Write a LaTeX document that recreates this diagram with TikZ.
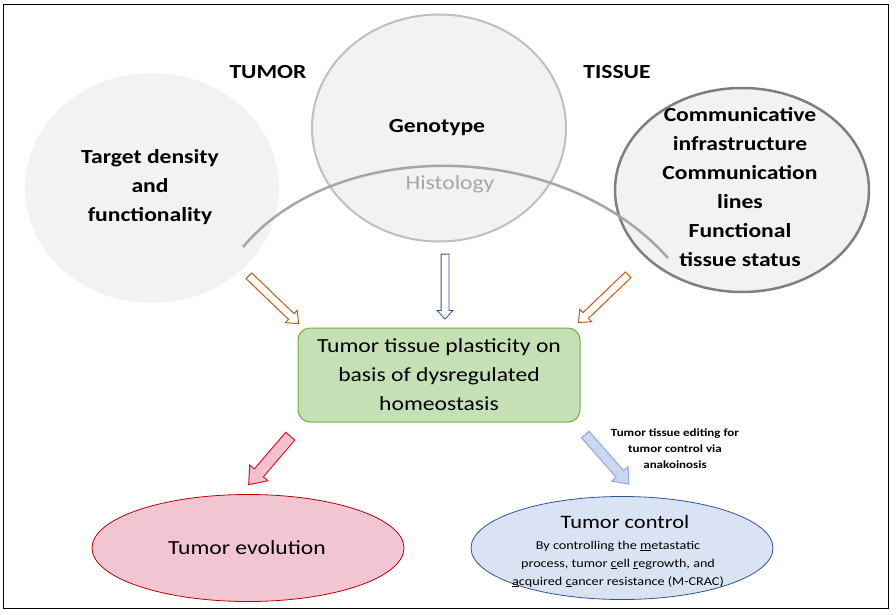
\documentclass[tikz,border=0pt]{standalone}
\usepackage{fontspec}
\setmainfont{Carlito}[FakeStretch=1.18]
\usetikzlibrary{shapes.geometric,shapes.arrows}
\definecolor{lgray}{HTML}{F2F2F2}
\definecolor{midgray}{HTML}{BFBFBF}
\definecolor{dkgray}{HTML}{7F7F7F}
\definecolor{arcgray}{HTML}{A6A6A6}
\definecolor{boxgreen}{HTML}{C5E0B4}
\definecolor{boxgreenline}{HTML}{70AD47}
\definecolor{evopink}{HTML}{F2C5D2}
\definecolor{evored}{HTML}{C00000}
\definecolor{ctlblue}{HTML}{DAE3F3}
\definecolor{ctlline}{HTML}{2F5597}
\definecolor{orangeline}{HTML}{C55A11}
\definecolor{redline}{HTML}{E0182C}
\definecolor{redfill}{HTML}{F4C0CC}
\definecolor{bluearrfill}{HTML}{C9D7EF}
\definecolor{bluearrline}{HTML}{8FAADC}
\begin{document}
\begin{tikzpicture}[x=1pt,y=-1pt,
  bigtxt/.style={font=\fontsize{20}{29}\selectfont, align=center},
  boldtxt/.style={font=\bfseries\fontsize{20}{29}\selectfont, align=center},
  blob/.style={ellipse, inner sep=0pt},
  barrow/.style={single arrow, sloped, allow upside down, anchor=center, inner xsep=0pt},
  hollowarrow/.style={barrow, draw=orangeline, fill=white, line width=1pt, inner ysep=3.5pt, single arrow head extend=4.5pt, single arrow tip angle=80},
  bluehollow/.style={barrow, draw=ctlline, fill=white, line width=0.8pt, inner ysep=3.5pt, single arrow head extend=4pt, single arrow tip angle=85},
  redarrow/.style={barrow, draw=redline, fill=redfill, line width=1pt, inner ysep=5.5pt, single arrow head extend=6pt, single arrow tip angle=75},
  bluearrow/.style={barrow, draw=bluearrline, fill=bluearrfill, line width=1pt, inner ysep=4.5pt, single arrow head extend=6pt, single arrow tip angle=78}
]
\useasboundingbox (0,0) rectangle (896,615);
\fill[white] (0,0) rectangle (896,615);

% top ellipses
\node[blob, fill=lgray, minimum width=254pt, minimum height=230pt] (tgt) at (152,188) {};
\node[boldtxt] (tgttxt) at (150,187) {Target density\\and\\functionality};
\node[blob, fill=lgray, draw=midgray, line width=2pt, minimum width=254pt, minimum height=227pt] (geno) at (439,128) {};
\node[boldtxt] (genotxt) at (437,128) {Genotype};
\node[bigtxt, text=arcgray] (histo) at (450,184) {Histology};
\node[blob, fill=lgray, draw=dkgray, line width=2.5pt, minimum width=254pt, minimum height=204pt] (tis) at (742,190) {};
\node[boldtxt] (tistxt) at (740,187) {Communicative\\infrastructure\\Communication\\lines\\Functional\\tissue status};

% arc
\coordinate (arcA) at (243,247);
\coordinate (arcB) at (668,258);
\draw[arcgray, line width=2.5pt] (arcA) .. controls (335,137) and (560,137) .. (arcB);

% titles
\node[boldtxt] (tumor) at (268,72) {TUMOR};
\node[boldtxt] (tissue) at (617,72) {TISSUE};

% central box
\node[draw=boxgreenline, fill=boxgreen, line width=1pt, rounded corners=12pt, minimum width=282pt, minimum height=94pt, bigtxt] (plast) at (439,375) {Tumor tissue plasticity on\\basis of dysregulated\\homeostasis};

% arrows into box
\coordinate (o1t) at (247,274); \coordinate (o1h) at (297,322);
\path (o1t) -- node[hollowarrow, minimum height=69pt] (o1) {} (o1h);
\coordinate (v1t) at (445,252); \coordinate (v1h) at (445,317);
\path (v1t) -- node[bluehollow, minimum height=65pt] (v1) {} (v1h);
\coordinate (o2t) at (630,273); \coordinate (o2h) at (580,321);
\path (o2t) -- node[hollowarrow, minimum height=69pt] (o2) {} (o2h);

% bottom ellipses
\node[blob, fill=evopink, draw=evored, line width=0.8pt, minimum width=312pt, minimum height=107pt] (evo) at (248,548) {};
\node[bigtxt] (evotxt) at (247,548) {Tumor evolution};
\node[blob, fill=ctlblue, draw=ctlline, line width=0.8pt, minimum width=302pt, minimum height=103pt] (ctl) at (622,548) {};
\node[font=\fontsize{19}{24}\selectfont] (ctltxt) at (625,522) {Tumor control};
\node[font=\fontsize{12}{18}\selectfont, align=center] (ctlsub) at (618,564) {By controlling the \underline{m}etastatic\\process, tumor \underline{c}ell \underline{r}egrowth, and\\\underline{a}cquired \underline{c}ancer resistance (M-CRAC)};

% arrows out of box
\coordinate (r1t) at (293,433); \coordinate (r1h) at (251,482);
\path (r1t) -- node[redarrow, minimum height=64pt] (r1) {} (r1h);
\coordinate (b1t) at (583,432); \coordinate (b1h) at (627,482);
\path (b1t) -- node[bluearrow, minimum height=66pt] (b1) {} (b1h);
\node[font=\bfseries\fontsize{11}{16}\selectfont, align=center] (edit) at (675,449) {Tumor tissue editing for\\tumor control via\\anakoinosis};

% frame
\draw[black, line width=1.5pt] (3.5,4.5) rectangle (888.5,608.5);
\end{tikzpicture}
\end{document}
